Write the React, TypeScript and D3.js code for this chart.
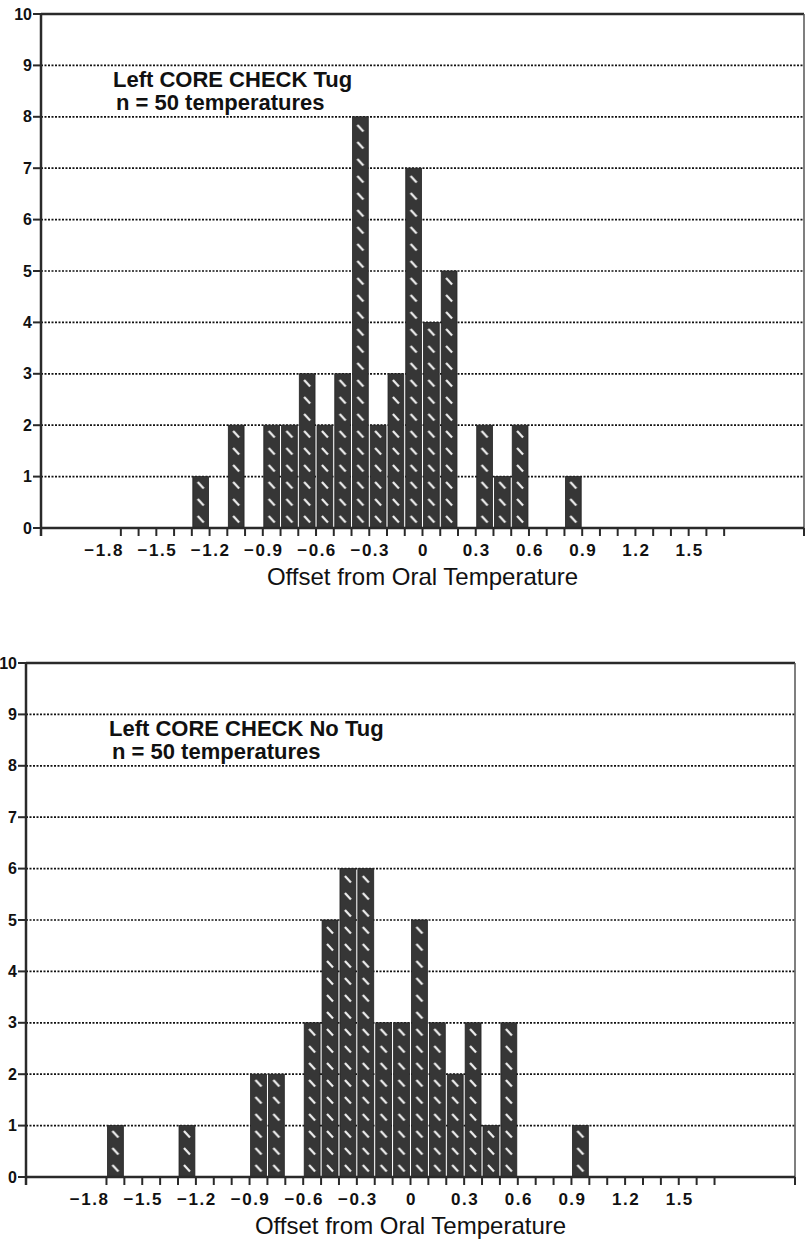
import * as d3 from 'd3';

// histogram bins (left edge of each 0.1-wide bin) and counts
const tugBinStarts = [-1.3, -1.1, -0.9, -0.8, -0.7, -0.6, -0.5, -0.4, -0.3, -0.2, -0.1, 0, 0.1, 0.3, 0.4, 0.5, 0.8];
const tugCounts = [1, 2, 2, 2, 3, 2, 3, 8, 2, 3, 7, 4, 5, 2, 1, 2, 1];

const noTugBinStarts = [-1.7, -1.3, -0.9, -0.8, -0.6, -0.5, -0.4, -0.3, -0.2, -0.1, 0, 0.1, 0.2, 0.3, 0.4, 0.5, 0.9];
const noTugCounts = [1, 1, 2, 2, 3, 5, 6, 6, 3, 3, 5, 3, 2, 3, 1, 3, 1];

const binWidth = 0.1;
const xLabelValues = [-1.8, -1.5, -1.2, -0.9, -0.6, -0.3, 0, 0.3, 0.6, 0.9, 1.2, 1.5];
const xTickValues = d3.range(-17, 18).map(i => i / 10);
const yTickValues = d3.range(0, 11);
const gridValues = d3.range(1, 10);

const tugTitle = 'Left CORE CHECK Tug';
const noTugTitle = 'Left CORE CHECK No Tug';
const sampleNote = 'n = 50 temperatures';
const xAxisTitle = 'Offset from Oral Temperature';

const fmt = (v: number) => {
  if (Math.abs(v) < 1e-9) return '0';
  const s = Math.abs(v).toFixed(1);
  return v < 0 ? '\u2212' + s : s;
};

type HistProps = {
  id: string;
  binStarts: number[];
  counts: number[];
  title: string;
  left: number;
  right: number;
  top: number;
  bottom: number;
  noteX: number;
};

function Histogram({ id, binStarts, counts, title, left, right, top, bottom, noteX }: HistProps) {
  const x = d3.scaleLinear().domain([-2.15, 2.15]).range([left, right]);
  const y = d3.scaleLinear().domain([0, 10]).range([bottom, top]);
  const bw = x(binWidth) - x(0);
  const data = binStarts.map((b, i) => ({ b, c: counts[i] }));
  const ink = '#2a2a2a';

  return (
    <g>
      <defs>
        <pattern id={id} patternUnits="userSpaceOnUse" x={x(0)} y={y(0)} width={bw} height={17}>
          <rect width={bw} height={17} fill="#363636" />
          <line x1={bw / 2 - 3} y1={5} x2={bw / 2 + 3} y2={11.5} stroke="#eeeeee" strokeWidth={2.2} />
        </pattern>
      </defs>

      {/* dotted grid */}
      {gridValues.map(v => (
        <line key={v} x1={left} x2={right} y1={y(v)} y2={y(v)}
          stroke="#111" strokeWidth={1.7} strokeDasharray="2 1.5" />
      ))}

      {/* bars */}
      {data.map(d => (
        <rect key={d.b} x={x(d.b) + 1} width={bw - 2} y={y(d.c)} height={y(0) - y(d.c)}
          fill={`url(#${id})`} stroke="#222" strokeWidth={0.8} />
      ))}

      {/* frame */}
      <line x1={left} x2={right} y1={top} y2={top} stroke={ink} strokeWidth={2.5} />
      <line x1={right} x2={right} y1={top} y2={bottom} stroke="#555" strokeWidth={1.5} />
      <line x1={left} x2={left} y1={top} y2={bottom + 8} stroke={ink} strokeWidth={2.5} />
      <line x1={left} x2={right} y1={bottom} y2={bottom} stroke={ink} strokeWidth={2.5} />

      {/* y axis */}
      {yTickValues.map(v => (
        <g key={v}>
          <line x1={left - 8} x2={left} y1={y(v)} y2={y(v)} stroke={ink} strokeWidth={2} />
          <text x={left - 9} y={y(v)} dy="0.35em" textAnchor="end" fontSize={16}
            fontWeight="bold" fill="#111">{v}</text>
        </g>
      ))}

      {/* x axis */}
      {xTickValues.map(v => (
        <line key={v} x1={x(v)} x2={x(v)} y1={bottom} y2={bottom + 8} stroke={ink} strokeWidth={2} />
      ))}
      <line x1={right} x2={right} y1={bottom} y2={bottom + 8} stroke={ink} strokeWidth={2} />
      {xLabelValues.map(v => (
        <text key={v} x={x(v) + 1} y={bottom + 28} textAnchor="middle" fontSize={17}
          fontWeight="bold" letterSpacing={1.5} fill="#111">{fmt(v)}</text>
      ))}
      <text x={x(0)} y={bottom + 57} textAnchor="middle" fontSize={24} fill="#111">{xAxisTitle}</text>

      {/* annotation */}
      <text x={noteX} y={top + 73} fontSize={22} fontWeight="bold" fill="#111">{title}</text>
      <text x={noteX + 3} y={top + 96} fontSize={22} fontWeight="bold" fill="#111">{sampleNote}</text>
    </g>
  );
}

export default function App() {
  return (
    <svg width={806} height={1243} viewBox="0 0 806 1243"
      style={{ position: 'absolute', left: 0, top: 0, background: '#fff' }}
      fontFamily="'Liberation Sans', Arial, Helvetica, sans-serif">
      <rect width={806} height={1243} fill="#fff" />
      <Histogram id="hatchTug" binStarts={tugBinStarts} counts={tugCounts} title={tugTitle}
        left={41} right={804} top={14} bottom={528} noteX={113} />
      <Histogram id="hatchNoTug" binStarts={noTugBinStarts} counts={noTugCounts} title={noTugTitle}
        left={26} right={795} top={663} bottom={1177} noteX={109} />
    </svg>
  );
}
